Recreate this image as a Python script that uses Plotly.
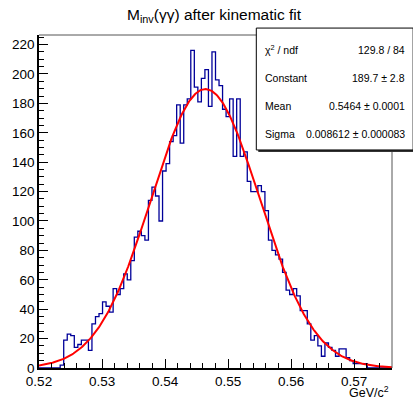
import plotly.graph_objects as go
import math

# ---- data ----
x_low = 0.52
x_high = 0.576
n_bins = 100
bin_counts = [
    0, 0, 0, 0, 0, 0, 2, 19, 23, 22,
    14, 16, 19, 19, 12, 30, 35, 37, 45, 42,
    38, 54, 50, 54, 64, 60, 73, 89, 93, 90,
    87, 114, 123, 117, 100, 134, 139, 154, 158, 179,
    153, 179, 183, 216, 191, 181, 197, 203, 178, 215,
    196, 192, 176, 171, 183, 144, 183, 144, 147, 127,
    120, 120, 124, 120, 107, 87, 80, 77, 74, 65,
    53, 50, 54, 49, 39, 39, 30, 19, 22, 15,
    8, 17, 14, 12, 8, 13, 13, 7, 5, 3,
    3, 3, 3, 0, 0, 0, 0, 0, 0, 0,
]
fit_constant = 189.7
fit_mean = 0.5464
fit_sigma = 0.008612
stats_labels = ["χ<sup>2</sup> / ndf", "Constant", "Mean", "Sigma"]
stats_values = ["129.8 / 84", "189.7 ± 2.8", "0.5464 ± 0.0001", "0.008612 ± 0.000083"]
x_tick_vals = [0.52, 0.53, 0.54, 0.55, 0.56, 0.57]
x_tick_text = ["0.52", "0.53", "0.54", "0.55", "0.56", "0.57"]
y_tick_vals = [0, 20, 40, 60, 80, 100, 120, 140, 160, 180, 200, 220]
y_max = 226.5

# ---- layout geometry ----
W, H = 413, 401
L, R, T, B = 33, 21, 35, 30
pw, ph = W - L - R, H - T - B


def px_x(px):
    return (px - L) / pw


def px_y(py):
    return (H - B - py) / ph


FONT = "Liberation Sans, Arial, sans-serif"

# histogram outline
width = (x_high - x_low) / n_bins
edges = [x_low + width * k for k in range(n_bins + 1)]
hx, hy = [edges[0]], [0]
for i, v in enumerate(bin_counts):
    hx += [edges[i], edges[i + 1]]
    hy += [v, v]
hx.append(edges[-1])
hy.append(0)

# fit curve from displayed fit parameters
n_fit = 400
fx = [x_low + (x_high - x_low) * k / n_fit for k in range(n_fit + 1)]
fy = [fit_constant * math.exp(-0.5 * ((x - fit_mean) / fit_sigma) ** 2) for x in fx]

fig = go.Figure()
fig.add_trace(go.Scatter(x=hx, y=hy, mode="lines",
                         line=dict(color="#000099", width=1.3),
                         hoverinfo="skip", showlegend=False))
fig.add_trace(go.Scatter(x=fx, y=fy, mode="lines",
                         line=dict(color="#ff0000", width=2),
                         hoverinfo="skip", showlegend=False))

fig.update_layout(
    width=W, height=H,
    margin=dict(l=L, r=R, t=T, b=B, pad=0),
    paper_bgcolor="white", plot_bgcolor="white",
    font=dict(family=FONT, color="black", size=13),
    showlegend=False,
)
fig.update_xaxes(
    range=[x_low, x_high], tickmode="array", tickvals=x_tick_vals, ticktext=x_tick_text,
    ticks="inside", ticklen=9, tickwidth=1, tickcolor="black",
    minor=dict(dtick=0.002, tick0=0.52, ticks="inside", ticklen=5, tickcolor="black", showgrid=False),
    showline=True, linecolor="black", linewidth=1.5, mirror=False,
    showgrid=False, zeroline=False, tickfont=dict(size=13.5, family=FONT),
)
fig.update_yaxes(
    range=[0, y_max], tickmode="array", tickvals=y_tick_vals,
    ticks="inside", ticklen=9, tickwidth=1, tickcolor="black",
    minor=dict(dtick=5, tick0=0, ticks="inside", ticklen=5, tickcolor="black", showgrid=False),
    showline=True, linecolor="black", linewidth=1.5, mirror=False,
    showgrid=False, zeroline=False, tickfont=dict(size=13.5, family=FONT),
)

shapes = [
    # frame top and right
    dict(type="line", xref="paper", yref="paper", x0=0, x1=1, y0=1, y1=1,
         line=dict(color="#555555", width=1)),
    dict(type="line", xref="paper", yref="paper", x0=1, x1=1, y0=0, y1=1,
         line=dict(color="#555555", width=1)),
    # stats box shadow
    dict(type="rect", xref="paper", yref="paper",
         x0=px_x(256), x1=px_x(415), y0=px_y(153), y1=px_y(30),
         fillcolor="#333333", line=dict(width=0)),
    # stats box
    dict(type="rect", xref="paper", yref="paper",
         x0=px_x(254), x1=px_x(413.5), y0=px_y(151), y1=px_y(28),
         fillcolor="white", line=dict(color="black", width=1)),
]
annotations = [
    dict(text="M<sub>inv</sub>(γγ) after kinematic fit", xref="paper", yref="paper",
         x=px_x(211), y=px_y(15), xanchor="center", yanchor="middle", showarrow=False,
         font=dict(size=15.5, family=FONT)),
    dict(text="GeV/c<sup>2</sup>", xref="paper", yref="paper",
         x=px_x(391), y=px_y(395.5), xanchor="right", yanchor="middle", showarrow=False,
         font=dict(size=12.5, family=FONT)),
]
row_y = [50, 78, 107, 135]
for lab, val, ry in zip(stats_labels, stats_values, row_y):
    annotations.append(dict(text=lab, xref="paper", yref="paper", x=px_x(261), y=px_y(ry),
                            xanchor="left", yanchor="middle", showarrow=False,
                            font=dict(size=10.5, family=FONT)))
    annotations.append(dict(text=val, xref="paper", yref="paper", x=px_x(407), y=px_y(ry),
                            xanchor="right", yanchor="middle", showarrow=False,
                            font=dict(size=10.5, family=FONT)))

fig.update_layout(shapes=shapes, annotations=annotations)
fig.write_html("out.html")
